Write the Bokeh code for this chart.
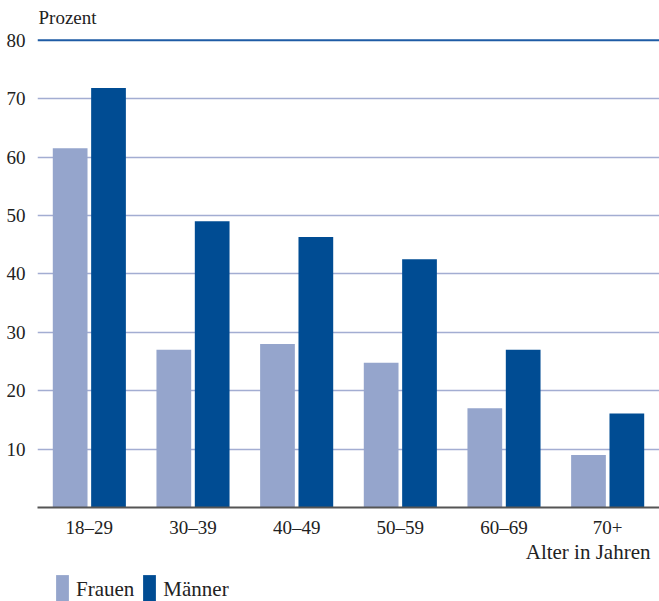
from bokeh.plotting import figure
from bokeh.layouts import column
from bokeh.models import FactorRange, Range1d, FixedTicker, Span, Label, Legend, LegendItem, ColumnDataSource
from bokeh.transform import dodge
from bokeh.embed import file_html
from bokeh.resources import INLINE

categories = ["18–29", "30–39", "40–49", "50–59", "60–69", "70+"]
frauen = [61.5, 27.0, 28.0, 24.8, 17.0, 9.0]
maenner = [71.8, 49.0, 46.3, 42.5, 27.0, 16.1]
y_ticks = [10, 20, 30, 40, 50, 60, 70, 80]
series_names = ["Frauen", "Männer"]

FONT = "Liberation Serif"
C_F = "#95A5CC"
C_M = "#004C93"
TXT = "#222222"

src = ColumnDataSource(dict(cat=categories, f=frauen, m=maenner))

# main chart: frame from canvas top (y=86.8) to axis at 0
p = figure(width=659, height=540, output_backend="svg", toolbar_location=None,
           x_range=FactorRange(*categories, range_padding=0),
           y_range=Range1d(0, 86.8),
           min_border_left=37, min_border_right=0, min_border_top=0, min_border_bottom=30)
p.outline_line_color = None

p.vbar(x=dodge("cat", -0.185, range=p.x_range), top="f", width=0.335, source=src,
       fill_color=C_F, line_color=None)
p.vbar(x=dodge("cat", 0.185, range=p.x_range), top="m", width=0.335, source=src,
       fill_color=C_M, line_color=None)

p.xgrid.grid_line_color = None
p.ygrid.ticker = FixedTicker(ticks=y_ticks[:-1])
p.ygrid.grid_line_color = "#A3ADD2"
p.ygrid.grid_line_width = 1.5
p.add_layout(Span(location=y_ticks[-1], dimension="width", line_color="#1E5BA5", line_width=2))

p.yaxis.ticker = FixedTicker(ticks=y_ticks)
p.yaxis.axis_line_color = None
p.yaxis.major_tick_line_color = None
p.yaxis.minor_tick_line_color = None
p.yaxis.major_label_standoff = 6
p.yaxis.major_label_text_font = FONT
p.yaxis.major_label_text_font_size = "19px"
p.yaxis.major_label_text_color = TXT

p.xaxis.axis_line_color = "#555555"
p.xaxis.axis_line_width = 2
p.xaxis.major_tick_line_color = None
p.xaxis.minor_tick_line_color = None
p.xaxis.major_label_standoff = 3
p.xaxis.major_label_text_font = FONT
p.xaxis.major_label_text_font_size = "19px"
p.xaxis.major_label_text_color = TXT

p.add_layout(Label(x=0, y=83.9, text="Prozent", text_font=FONT, text_font_size="19px",
                   text_color=TXT, text_baseline="middle", text_align="left", x_offset=1))

# bottom strip: axis title and legend (frame aligned with the main frame, x in pixels 37..659)
q = figure(width=659, height=61, output_backend="svg", toolbar_location=None,
           x_range=Range1d(37, 659), y_range=Range1d(0, 61),
           x_axis_location=None, y_axis_location=None,
           min_border=0, min_border_left=37, min_border_right=0, min_border_top=0, min_border_bottom=0)
q.outline_line_color = None
q.grid.visible = False

key_src = ColumnDataSource(dict(x=[0], top=[0]))
lf = q.vbar(x="x", top="top", width=0, source=key_src, fill_color=C_F, line_color=None)
lm = q.vbar(x="x", top="top", width=0, source=key_src, fill_color=C_M, line_color=None)

q.add_layout(Label(x=650, y=50, text="Alter in Jahren", text_font=FONT, text_font_size="21px",
                   text_color=TXT, text_baseline="middle", text_align="right"))

legend = Legend(items=[LegendItem(label=series_names[0], renderers=[lf], index=0),
                       LegendItem(label=series_names[1], renderers=[lm], index=0)],
                orientation="horizontal", location=(17, -6),
                glyph_width=16, glyph_height=36, label_standoff=6, spacing=7,
                padding=0, margin=0, border_line_color=None, background_fill_alpha=0,
                label_text_font=FONT, label_text_font_size="21px", label_text_color=TXT,
                label_height=36)
q.add_layout(legend)

layout = column(p, q, spacing=0)
open("out.html", "w").write(file_html(layout, INLINE))
